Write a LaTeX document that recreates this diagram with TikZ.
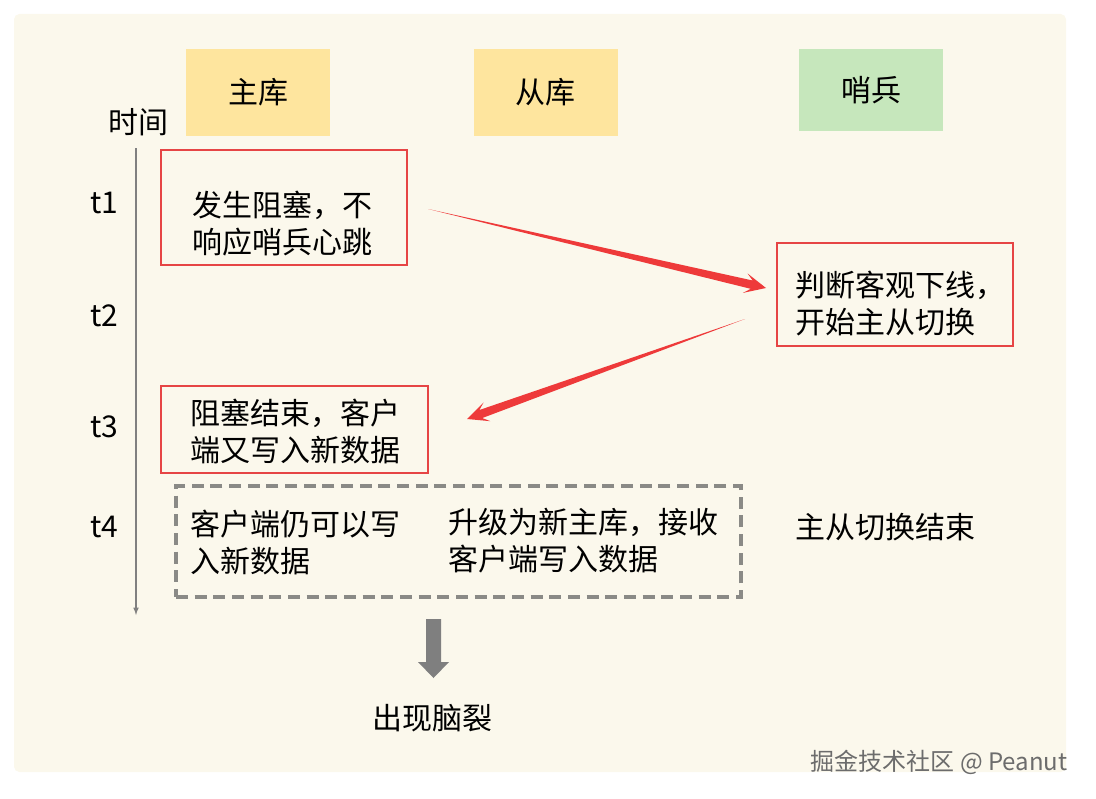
\documentclass[tikz,border=0pt]{standalone}
\usepackage{fontspec}
\setmainfont{Noto Sans CJK SC}
\usetikzlibrary{calc}

\definecolor{paper}{HTML}{FBF8EC}
\definecolor{headyellow}{HTML}{FEE59E}
\definecolor{headgreen}{HTML}{C6E7BC}
\definecolor{boxred}{HTML}{E64545}
\definecolor{arrowred}{HTML}{EE3A3A}
\definecolor{dashgray}{HTML}{8A8A86}
\definecolor{splitgray}{HTML}{7F7F7F}

\begin{document}
\begin{tikzpicture}[
	x=0.75pt,
	y=-0.75pt,
	font=\fontsize{22.5}{27.75}\selectfont,
	head/.style={
		minimum width=108pt,
		minimum height=65.25pt,
		inner sep=0pt
	},
	redbox/.style={
		draw=boxred,
		line width=2.2pt,
		inner sep=0pt
	},
	dashbox/.style={
		draw=dashgray,
		line width=2.6pt,
		dash pattern=on 9pt off 5pt,
		inner sep=0pt
	},
	txt/.style={
		anchor=west,
		align=left,
		inner sep=0pt
	}
	]
	\useasboundingbox (0,0) rectangle (1096,799);
	\fill[paper, rounded corners=4pt] (14,14) rectangle (1066,772);

	% column heads
	\node[head, fill=headyellow] (master) at (258,92.5) {主库};
	\node[head, fill=headyellow] (slave) at (545.5,92.5) {从库};
	\node[head, fill=headgreen, minimum height=61.5pt] (sentinel) at (871,90) {哨兵};

	% time axis
	\node (time) at (138,122) {时间};
	\coordinate (tstart) at (136,148);
	\coordinate (tend) at (136,615);
	\draw[gray, line width=0.9pt, -latex] (tstart) -- (tend);
	\foreach \t/\y in {1/203, 2/316, 3/427, 4/527} {
		\node (t\t) at (104,\y) {t\t};
	}

	% events
	\node[redbox, minimum width=184.5pt, minimum height=86.25pt] (block) at (284,207.5) {};
	\node[txt] (blocktxt) at (192,223.5) {发生阻塞，不\\响应哨兵心跳};

	\node[redbox, minimum width=177pt, minimum height=77.25pt] (odown) at (895,294.5) {};
	\node[txt] (odowntxt) at (795,304) {判断客观下线，\\开始主从切换};

	\node[redbox, minimum width=200.25pt, minimum height=65.25pt] (resume) at (294.5,429.5) {};
	\node[txt] (resumetxt) at (190,431.5) {阻塞结束，客户\\端又写入新数据};

	\node[dashbox, minimum width=423.75pt, minimum height=83.25pt] (both) at (458.5,541.5) {};
	\node[txt] (oldmaster) at (190,542.5) {客户端仍可以写\\入新数据};
	\node[txt] (newmaster) at (448,540.5) {升级为新主库，接收\\客户端写入数据};
	\node[txt] (done) at (795,527) {主从切换结束};

	% tapered red arrows
	\coordinate (s1) at (428,209);
	\coordinate (e1) at (766,288);
	\coordinate (s2) at (745,319);
	\coordinate (e2) at (467,419);
	\foreach \a/\b in {s1/e1, s2/e2} {
		\path ($(\b)!11pt!(\a)$) coordinate (nk) ($(\b)!16pt!(\a)$) coordinate (bb);
		\fill[arrowred] (\a) -- ($(nk)!3.2pt!90:(\b)$) -- ($(bb)!7.5pt!90:(\b)$) -- (\b)
			-- ($(bb)!7.5pt!-90:(\b)$) -- ($(nk)!3.2pt!-90:(\b)$) -- cycle;
	}

	% result
	\fill[splitgray] (426,619) -- (441,619) -- (441,662) -- (449,662) -- (433.5,678)
		-- (418,662) -- (426,662) -- cycle;
	\node (split) at (432.5,718) {出现脑裂};

	\node[text=gray!85!black, font=\fontsize{18}{22}\selectfont] (mark) at (939,762) {掘金技术社区 @ Peanut};
\end{tikzpicture}
\end{document}
